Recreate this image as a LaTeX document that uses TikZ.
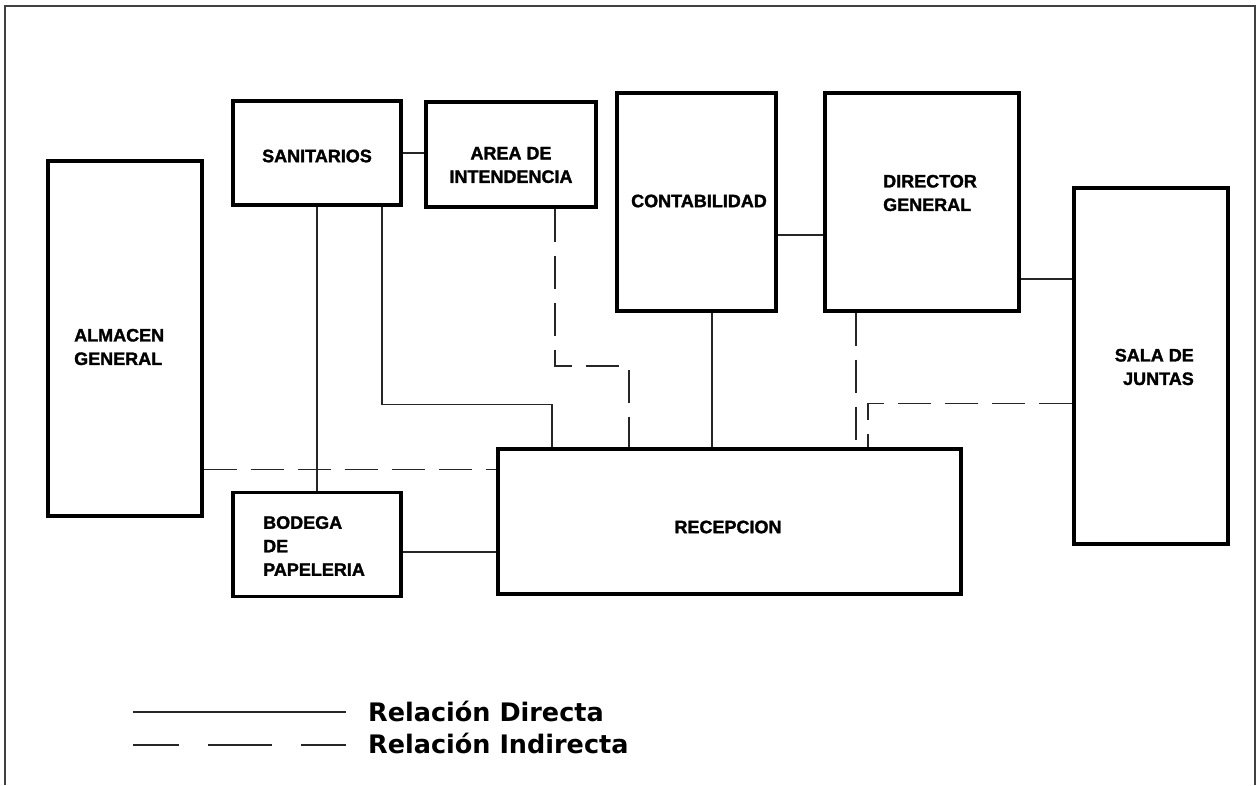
\documentclass[tikz,border=0pt]{standalone}
\usepackage{fontspec}
\newfontfamily\boxfont[FakeBold=1.6]{Liberation Sans}
\newfontfamily\legfont{DejaVu Sans}
\begin{document}
\begin{tikzpicture}[x=1pt,y=-1pt,
  box/.style={draw=black, line width=3.2pt, inner sep=0pt},
  lbl/.style={font=\boxfont\bfseries\fontsize{18}{23.5}\selectfont, inner sep=0pt},
  conn/.style={draw=black!85, line width=1.4pt},
  ind/.style={conn, dash pattern=on 33pt off 14pt},
  leg/.style={font=\legfont\bfseries\fontsize{25.5}{30}\selectfont, inner sep=0pt, anchor=base west}]
\useasboundingbox (0,0) rectangle (1258,785);
% frame
\draw[draw=black!75, line width=1.8pt] (5,785) -- (5,6) -- (1255,6) -- (1255,785);
% boxes
\node[box, minimum width=154pt, minimum height=355pt] (alm) at (125,338.5) {};
\node[box, minimum width=168pt, minimum height=104pt] (san) at (317,153) {};
\node[box, minimum width=170pt, minimum height=105pt] (area) at (511,154.5) {};
\node[box, minimum width=159pt, minimum height=218pt] (cont) at (696.5,202) {};
\node[box, minimum width=194pt, minimum height=218pt] (dir) at (922,202) {};
\node[box, minimum width=154pt, minimum height=356pt] (sala) at (1151,366) {};
\node[box, minimum width=463pt, minimum height=145pt] (rec) at (729.5,521.5) {};
\node[box, minimum width=168pt, minimum height=104pt] (bod) at (317,544.5) {};
% labels
\node[lbl, anchor=west, align=left] (talm) at (74,347) {ALMACEN\\GENERAL};
\node[lbl] (tsan) at (317,156) {SANITARIOS};
\node[lbl, align=center] (tarea) at (511,165) {AREA DE\\INTENDENCIA};
\node[lbl] (tcont) at (699,201) {CONTABILIDAD};
\node[lbl, anchor=west, align=left] (tdir) at (883,193) {DIRECTOR\\GENERAL};
\node[lbl, anchor=east, align=right] (tsala) at (1194,367) {SALA DE\\JUNTAS};
\node[lbl] (trec) at (728,527) {RECEPCION};
\node[lbl, anchor=west, align=left] (tbod) at (263,546) {BODEGA\\DE\\PAPELERIA};
% helper coordinates
\coordinate (c1) at (382,404.5);
\coordinate (c2) at (555,366);
\coordinate (c3) at (868,403.5);
% direct connectors
\draw[conn] (san.east) -- (san.east -| area.west);
\draw[conn] (san.south) -- (bod.north);
\draw[conn] (san.south -| c1) -- (c1) -| (rec.north -| 552,0);
\draw[conn] (cont.east |- 0,235) -- (dir.west |- 0,235);
\draw[conn] (cont.south -| 712,0) -- (rec.north -| 712,0);
\draw[conn] (dir.east |- 0,279) -- (sala.west |- 0,279);
\draw[conn] (bod.east |- 0,552) -- (rec.west |- 0,552);
% indirect connectors
\draw[ind] (alm.east |- 0,469.5) -- (rec.west |- 0,469.5);
\draw[ind] (area.south -| c2) -- (c2) -| (rec.north -| 629,0);
\draw[ind] (dir.south -| 856,0) -- (rec.north -| 856,0);
\draw[ind] (sala.west |- c3) -- (c3) -- (rec.north -| c3);
% legend
\coordinate (ls1) at (133,712);
\coordinate (le1) at (346,712);
\coordinate (ls2) at (133,745);
\coordinate (le2) at (346,745);
\draw[conn] (ls1) -- (le1);
\draw[conn, dash pattern=on 64pt off 29pt, dash phase=18pt] (ls2) -- (le2);
\node[leg] (ldir) at (368,721) {Relación Directa};
\node[leg] (lind) at (368,753) {Relación Indirecta};
\end{tikzpicture}
\end{document}
